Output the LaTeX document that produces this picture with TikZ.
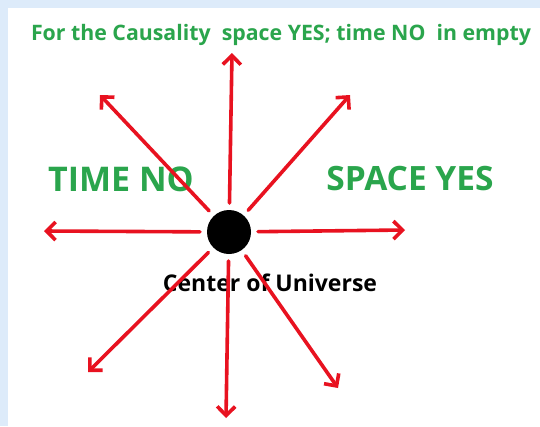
\documentclass[tikz,border=0pt]{standalone}
\usepackage{fontspec}
\setmainfont{Open Sans}
\usetikzlibrary{arrows.meta}
\definecolor{rayred}{RGB}{232,18,32}
\definecolor{labgreen}{RGB}{42,165,76}
\definecolor{panelblue}{RGB}{221,235,250}
\begin{document}
\begin{tikzpicture}[x=1pt, y=-1pt, line join=round, line cap=round,
	ray/.style={draw=rayred, line width=3.6pt, -{Straight Barb[length=9pt, width=18pt]}},
	lab/.style={text=labgreen, inner sep=0pt}]
	\fill[panelblue] (0,0) rectangle (540,426);
	\fill[white] (8,8) rectangle (540,426);
	\useasboundingbox (0,0) rectangle (540,426);
	\node[lab, font=\bfseries\fontsize{21.3}{24}\selectfont] (head) at (281,35) {For the Causality\ \ space YES; time NO\ \ in empty};
	\node[lab, font=\bfseries\fontsize{34}{40}\selectfont] (timeno) at (121,179) {TIME NO};
	\node[lab, font=\bfseries\fontsize{33.5}{40}\selectfont] (spaceyes) at (410,179) {SPACE YES};
	\node[inner sep=0pt, font=\bfseries\fontsize{23}{26}\selectfont] (cou) at (270,283) {Center of Universe};
	\node[circle, fill=black, minimum size=44pt, inner sep=0pt, outer sep=7pt] (ctr) at (229,232) {};
	\coordinate (n) at (232,53);
	\coordinate (s) at (226,418);
	\coordinate (w) at (44,231);
	\coordinate (e) at (405,230);
	\coordinate (nw) at (100,95);
	\coordinate (ne) at (350,95);
	\coordinate (sw) at (88,372);
	\coordinate (se) at (338,388);
	\foreach \d in {n,s,w,e,nw,ne,sw,se}
		\draw[ray] (ctr) -- (\d);
\end{tikzpicture}
\end{document}
